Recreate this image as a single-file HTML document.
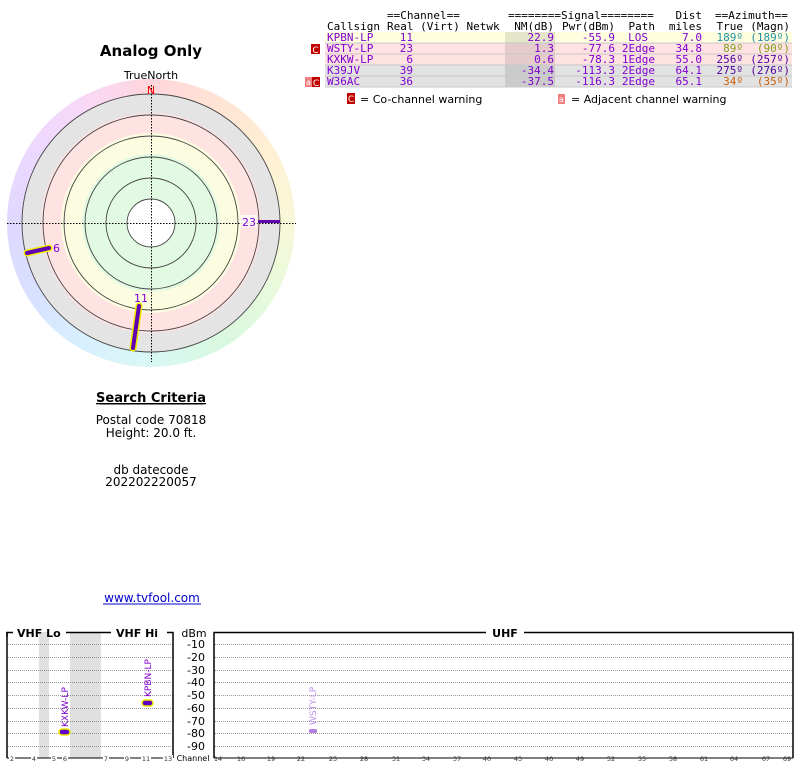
<!DOCTYPE html>
<html><head><meta charset="utf-8"><style>
html,body{margin:0;padding:0;background:#fff;width:800px;height:768px;overflow:hidden;position:relative;font-family:"DejaVu Sans","Liberation Sans",sans-serif}
#ring{position:absolute;left:7px;top:79px;width:288px;height:288px;border-radius:50%;
background:conic-gradient(from 0deg,#ffd6dc,#ffe4d4,#fff0d4,#f8f8d8,#e8fadc,#d8f8e0,#d8f8f4,#d8f0ff,#d8e0ff,#e0d8ff,#ecd8ff,#f8d8f8,#ffd6dc)}
svg{position:absolute;left:0;top:0}
</style></head><body>
<div id="ring"></div>
<svg width="800" height="768" xmlns="http://www.w3.org/2000/svg" font-family="DejaVu Sans, sans-serif">
<!-- polar -->
<circle cx="151" cy="223" r="129" fill="#e4e4e4"/>
<circle cx="151" cy="223" r="110" fill="#ffe2e2"/>
<circle cx="151" cy="223" r="90" fill="#fcfce0"/>
<circle cx="151" cy="223" r="69" fill="#e2fae2"/>
<circle cx="151" cy="223" r="24" fill="#fff"/>
<g fill="none" stroke="#444" stroke-width="0.9">
<circle cx="151" cy="223" r="24"/><circle cx="151" cy="223" r="45"/><circle cx="151" cy="223" r="66"/>
<circle cx="151" cy="223" r="87"/><circle cx="151" cy="223" r="108"/><circle cx="151" cy="223" r="129"/>
</g>
<line x1="7" y1="223.5" x2="296" y2="223.5" stroke="#000" stroke-dasharray="1.5,1.5"/>
<line x1="151.5" y1="85" x2="151.5" y2="362" stroke="#000" stroke-dasharray="1.5,1.5"/>
<text x="151" y="94" fill="#f00" font-size="11" text-anchor="middle">N</text>
<line x1="258" y1="221.5" x2="280" y2="221.5" stroke="#6000b0" stroke-width="3"/>
<rect x="241" y="215" width="16" height="12" fill="#fff" opacity="0.8"/>
<text x="249" y="226" fill="#8000d0" font-size="11" text-anchor="middle">23</text>
<line x1="49" y1="248" x2="27" y2="253" stroke="#ee0" stroke-width="7" stroke-linecap="round"/>
<line x1="49" y1="248" x2="27" y2="253" stroke="#6000b0" stroke-width="4" stroke-linecap="round"/>
<text x="53" y="252" fill="#8000d0" font-size="11">6</text>
<line x1="139" y1="306" x2="133" y2="348" stroke="#ee0" stroke-width="7" stroke-linecap="round"/>
<line x1="139" y1="306" x2="133" y2="348" stroke="#6000b0" stroke-width="4" stroke-linecap="round"/>
<text x="141" y="302" fill="#8000d0" font-size="11" text-anchor="middle">11</text>
<!-- left texts -->
<text x="151" y="56" font-size="15" font-weight="bold" text-anchor="middle">Analog Only</text>
<text x="151" y="79" font-size="11" text-anchor="middle">TrueNorth</text>
<text x="151" y="402" font-size="13" font-weight="bold" text-anchor="middle" text-decoration="underline">Search Criteria</text>
<line x1="100" y1="404" x2="203" y2="404" stroke="#000" stroke-width="1"/>
<text x="151" y="424" font-size="12" text-anchor="middle">Postal code 70818</text>
<text x="151" y="437" font-size="12" text-anchor="middle">Height: 20.0 ft.</text>
<text x="151" y="474" font-size="12" text-anchor="middle">db datecode</text>
<text x="151" y="486" font-size="12" text-anchor="middle">202202220057</text>
<text x="152" y="602" font-size="12" text-anchor="middle" fill="#00c">www.tvfool.com</text>
<line x1="103" y1="604" x2="201" y2="604" stroke="#00c"/>
<!-- table -->
<rect x="325" y="32" width="467" height="11" fill="#ffffe0"/>
<rect x="325" y="43" width="467" height="22" fill="#ffe2e2"/>
<rect x="325" y="65" width="467" height="22" fill="#e2e2e2"/>
<rect x="505" y="32" width="50" height="55" fill="#000" opacity="0.1"/>
<g stroke="#c8c8c8"><line x1="325" y1="43" x2="792" y2="43"/><line x1="325" y1="54" x2="792" y2="54"/><line x1="325" y1="65" x2="792" y2="65"/><line x1="325" y1="76" x2="792" y2="76"/><line x1="325" y1="87" x2="792" y2="87"/></g>
<g font-family="DejaVu Sans Mono, monospace" font-size="11">
<text x="387" y="19">==Channel==</text>
<text x="508" y="19">========Signal========</text>
<text x="702" y="19" text-anchor="end">Dist</text>
<text x="715" y="19">==Azimuth==</text>
<text x="327" y="30">Callsign</text><text x="387" y="30">Real (Virt) Netwk</text>
<text x="554" y="30" text-anchor="end">NM(dB)</text><text x="615" y="30" text-anchor="end">Pwr(dBm)</text>
<text x="655" y="30" text-anchor="end">Path</text><text x="702" y="30" text-anchor="end">miles</text>
<text x="743" y="30" text-anchor="end">True</text><text x="790" y="30" text-anchor="end">(Magn)</text>
<g fill="#8000d0">
<text x="327" y="41">KPBN-LP</text><text x="413" y="41" text-anchor="end">11</text><text x="554" y="41" text-anchor="end">22.9</text><text x="615" y="41" text-anchor="end">-55.9</text><text x="648" y="41" text-anchor="end">LOS</text><text x="702" y="41" text-anchor="end">7.0</text>
<text x="327" y="52">WSTY-LP</text><text x="413" y="52" text-anchor="end">23</text><text x="554" y="52" text-anchor="end">1.3</text><text x="615" y="52" text-anchor="end">-77.6</text><text x="655" y="52" text-anchor="end">2Edge</text><text x="702" y="52" text-anchor="end">34.8</text>
<text x="327" y="63">KXKW-LP</text><text x="413" y="63" text-anchor="end">6</text><text x="554" y="63" text-anchor="end">0.6</text><text x="615" y="63" text-anchor="end">-78.3</text><text x="655" y="63" text-anchor="end">1Edge</text><text x="702" y="63" text-anchor="end">55.0</text>
<text x="327" y="74">K39JV</text><text x="413" y="74" text-anchor="end">39</text><text x="554" y="74" text-anchor="end">-34.4</text><text x="615" y="74" text-anchor="end">-113.3</text><text x="655" y="74" text-anchor="end">2Edge</text><text x="702" y="74" text-anchor="end">64.1</text>
<text x="327" y="85">W36AC</text><text x="413" y="85" text-anchor="end">36</text><text x="554" y="85" text-anchor="end">-37.5</text><text x="615" y="85" text-anchor="end">-116.3</text><text x="655" y="85" text-anchor="end">2Edge</text><text x="702" y="85" text-anchor="end">65.1</text>
</g>
<text x="743" y="41" text-anchor="end" fill="#2090a8">189º</text><text x="790" y="41" text-anchor="end" fill="#2090a8">(189º)</text>
<text x="743" y="52" text-anchor="end" fill="#80a020">89º</text><text x="790" y="52" text-anchor="end" fill="#80a020">(90º)</text>
<text x="743" y="63" text-anchor="end" fill="#5000a0">256º</text><text x="790" y="63" text-anchor="end" fill="#5000a0">(257º)</text>
<text x="743" y="74" text-anchor="end" fill="#5000a0">275º</text><text x="790" y="74" text-anchor="end" fill="#5000a0">(276º)</text>
<text x="743" y="85" text-anchor="end" fill="#c86010">34º</text><text x="790" y="85" text-anchor="end" fill="#c86010">(35º)</text>
</g>
<rect x="311" y="44" width="9" height="10" fill="#c00000"/><text x="315.5" y="53" font-size="9" fill="#fff" text-anchor="middle">C</text>
<rect x="305" y="77" width="7" height="10" fill="#f08080"/><text x="308.5" y="85" font-size="8" fill="#fff" text-anchor="middle">a</text>
<rect x="312" y="77" width="8" height="10" fill="#c00000"/><text x="316" y="86" font-size="9" fill="#fff" text-anchor="middle">C</text>
<rect x="347" y="93" width="8" height="11" fill="#c00000"/><text x="351" y="102" font-size="9" fill="#fff" text-anchor="middle">C</text>
<text x="360" y="103" font-size="11">= Co-channel warning</text>
<rect x="558" y="94" width="7" height="10" fill="#f08080"/><text x="561.5" y="102" font-size="8" fill="#fff" text-anchor="middle">a</text>
<text x="571" y="103" font-size="11">= Adjacent channel warning</text>
<!-- bottom chart -->
<rect x="39" y="632" width="10" height="126" fill="#e0e0e0"/>
<rect x="70" y="632" width="31" height="126" fill="#e0e0e0"/>
<g stroke="#777" stroke-dasharray="1,1" stroke-width="0.8">
<line x1="8" y1="644.5" x2="172" y2="644.5"/><line x1="8" y1="657.5" x2="172" y2="657.5"/><line x1="8" y1="670.5" x2="172" y2="670.5"/><line x1="8" y1="682.5" x2="172" y2="682.5"/><line x1="8" y1="695.5" x2="172" y2="695.5"/><line x1="8" y1="708.5" x2="172" y2="708.5"/><line x1="8" y1="721.5" x2="172" y2="721.5"/><line x1="8" y1="733.5" x2="172" y2="733.5"/><line x1="8" y1="746.5" x2="172" y2="746.5"/>
<line x1="215" y1="644.5" x2="792" y2="644.5"/><line x1="215" y1="657.5" x2="792" y2="657.5"/><line x1="215" y1="670.5" x2="792" y2="670.5"/><line x1="215" y1="682.5" x2="792" y2="682.5"/><line x1="215" y1="695.5" x2="792" y2="695.5"/><line x1="215" y1="708.5" x2="792" y2="708.5"/><line x1="215" y1="721.5" x2="792" y2="721.5"/><line x1="215" y1="733.5" x2="792" y2="733.5"/><line x1="215" y1="746.5" x2="792" y2="746.5"/>
</g>
<g stroke="#000" stroke-width="1.5" fill="none">
<path d="M7,637 V632.5 H13 M66,632.5 H111 M167,632.5 H173 V758"/>
<path d="M7,632 V758"/>
<path d="M214,758 V632.5 H486 M524,632.5 H793 V758"/>
<line x1="7" y1="758" x2="173" y2="758" stroke-width="1"/>
<line x1="214" y1="758" x2="793" y2="758" stroke-width="1"/>
</g>
<text x="17" y="637" font-size="11" font-weight="bold">VHF Lo</text>
<text x="116" y="637" font-size="11" font-weight="bold">VHF Hi</text>
<text x="505" y="637" font-size="11" font-weight="bold" text-anchor="middle">UHF</text>
<g font-size="11" text-anchor="middle"><text x="194" y="637">dBm</text>
<text x="196" y="648">-10</text><text x="196" y="661">-20</text><text x="196" y="674">-30</text><text x="196" y="686">-40</text><text x="196" y="699">-50</text><text x="196" y="712">-60</text><text x="196" y="725">-70</text><text x="196" y="737">-80</text><text x="196" y="750">-90</text></g>
<text x="193" y="761" font-size="8" text-anchor="middle">Channel</text>
<g font-size="6.5" text-anchor="middle" fill="#333">
<g><rect x="9" y="755" width="6" height="7" fill="#fff"/><text x="12" y="761">2</text></g>
<g><rect x="31" y="755" width="6" height="7" fill="#fff"/><text x="34" y="761">4</text></g>
<g><rect x="51" y="755" width="6" height="7" fill="#fff"/><text x="54" y="761">5</text></g>
<g><rect x="62" y="755" width="6" height="7" fill="#fff"/><text x="65" y="761">6</text></g>
<g><rect x="103" y="755" width="6" height="7" fill="#fff"/><text x="106" y="761">7</text></g>
<g><rect x="124" y="755" width="6" height="7" fill="#fff"/><text x="127" y="761">9</text></g>
<g><rect x="141" y="755" width="10" height="7" fill="#fff"/><text x="146" y="761">11</text></g>
<g><rect x="163" y="755" width="10" height="7" fill="#fff"/><text x="168" y="761">13</text></g>
</g>
<g font-size="6.5" text-anchor="middle" fill="#333">
<rect x="215" y="755" width="577" height="7" fill="#fff" opacity="0"/>
<text x="218" y="761">14</text><text x="241" y="761">16</text><text x="271" y="761">19</text><text x="301" y="761">22</text><text x="333" y="761">25</text><text x="364" y="761">28</text><text x="396" y="761">31</text><text x="426" y="761">34</text><text x="457" y="761">37</text><text x="487" y="761">40</text><text x="518" y="761">43</text><text x="549" y="761">46</text><text x="580" y="761">49</text><text x="611" y="761">52</text><text x="642" y="761">55</text><text x="673" y="761">58</text><text x="704" y="761">61</text><text x="734" y="761">64</text><text x="766" y="761">67</text><text x="787" y="761">69</text>
</g>
<rect x="59" y="729" width="11" height="6" rx="3" fill="#6000c0" stroke="#ee0" stroke-width="1.5"/>
<rect x="142" y="700" width="11" height="6" rx="3" fill="#6000c0" stroke="#ee0" stroke-width="1.5"/>
<rect x="309" y="729" width="8" height="4" rx="1.5" fill="#b080e0"/>
<text transform="translate(68,727) rotate(-90)" font-size="9" fill="#8000d0">KXKW-LP</text>
<text transform="translate(151,697) rotate(-90)" font-size="9" fill="#8000d0">KPBN-LP</text>
<text transform="translate(316,725) rotate(-90)" font-size="9" fill="#c090e8">WSTY-LP</text>
</svg>
</body></html>
